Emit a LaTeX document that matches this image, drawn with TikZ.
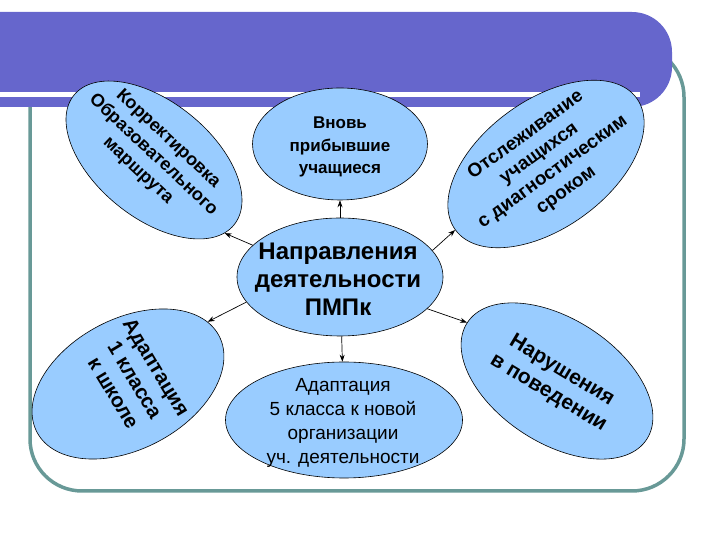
\documentclass[tikz,border=0pt]{standalone}
\usepackage{fontspec}
\setmainfont{Liberation Sans}
\usetikzlibrary{shapes}
\usetikzlibrary{arrows.meta}

\definecolor{bannerblue}{RGB}{102,102,204}
\definecolor{bubbleblue}{RGB}{153,204,255}
\definecolor{framegreen}{RGB}{104,153,151}

\begin{document}
\begin{tikzpicture}[x=1pt,y=1pt]
	\tikzstyle{bubble}=[ellipse,draw=black,fill=bubbleblue,line width=0.6pt,inner sep=0pt]
	\tikzstyle{bubble text}=[align=center,inner sep=0pt]
	\tikzstyle{link}=[-{Stealth[length=7pt,width=5pt]},black,line width=0.7pt]

	\useasboundingbox (0,0) rectangle (720,540);

	% frame and title bar
	\draw[framegreen,line width=3.5pt,rounded corners=52pt] (30,49) rectangle (684,495);
	\fill[bannerblue] (0,528) -- (632,528) arc[start angle=90,end angle=0,radius=40]
		-- (672,473) arc[start angle=0,end angle=-90,radius=40] -- (0,433) -- cycle;
	\fill[white] (0,443) rectangle (640,447.5);

	% bubbles
	\node[bubble,minimum width=206pt,minimum height=118pt] (napr) at (340,263) {};
	\node[bubble,minimum width=175pt,minimum height=112pt] (vnov) at (340,396) {};
	\node[bubble,minimum width=237pt,minimum height=116pt] (adap5) at (344,120) {};
	\node[bubble,minimum width=206pt,minimum height=116pt,rotate=-39] (kor) at (154,380) {};
	\node[bubble,minimum width=224pt,minimum height=128pt,rotate=36] (otsl) at (546,376) {};
	\node[bubble,minimum width=206pt,minimum height=130pt,rotate=28] (adap1) at (128,156) {};
	\node[bubble,minimum width=214pt,minimum height=124pt,rotate=-33] (narush) at (557,159) {};

	% texts
	\node[bubble text,font=\bfseries\fontsize{24}{28}\selectfont] (naprt) at (338,261) {Направления\\деятельности\\ПМПк};
	\node[bubble text,font=\bfseries\fontsize{17}{22.5}\selectfont] (vnovt) at (340,393) {Вновь\\прибывшие\\учащиеся};
	\node[bubble text,font=\fontsize{19}{24}\selectfont] (adap5t) at (343,117) {Адаптация\\5 класса к новой\\организации\\уч. деятельности};
	\node[bubble text,font=\bfseries\fontsize{18}{22}\selectfont,rotate=-43] (kort) at (153,385) {Корректировка\\Образовательного\\маршрута};
	\node[bubble text,font=\bfseries\fontsize{19}{23}\selectfont,rotate=36] (otslt) at (546,377) {Отслеживание\\учащихся\\с диагностическим\\сроком};
	\node[bubble text,font=\bfseries\fontsize{20.5}{25}\selectfont,rotate=-59] (adap1t) at (135,160) {Адаптация\\1 класса\\к школе};
	\node[bubble text,font=\bfseries\fontsize{21}{26}\selectfont,rotate=-31] (narusht) at (555,158) {Нарушения\\в поведении};

	% arrows
	\draw[link] (napr) -- (vnov);
	\draw[link] (napr) -- (adap5);
	\draw[link] (napr.160) -- (kor.-7);
	\draw[link] (napr.16) -- (otsl.west);
	\draw[link] (napr.195) -- (adap1.10);
	\draw[link] (napr.-20) -- (narush.west);
\end{tikzpicture}
\end{document}
